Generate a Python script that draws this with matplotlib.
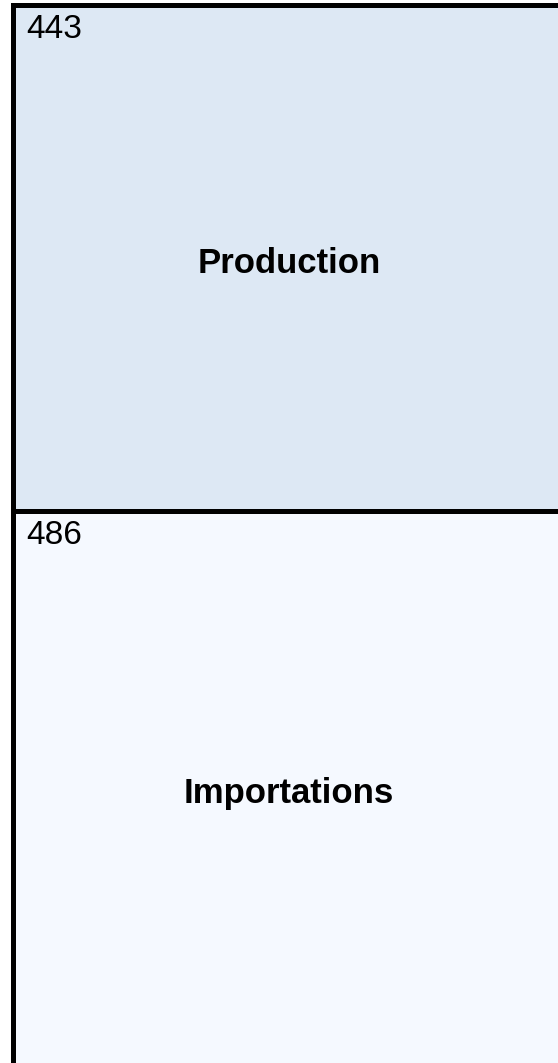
import matplotlib
matplotlib.use("Agg")
import matplotlib.pyplot as plt

plt.rcParams['font.family'] = ['Liberation Sans', 'DejaVu Sans']

# treemap data (stacked top to bottom)
labels = ["Production", "Importations"]
values = [443, 486]
colors = ["#dde8f4", "#f5f9ff"]

fig = plt.figure(figsize=(5.58, 10.63), dpi=100)
ax = fig.add_axes([0, 0, 1, 1])
ax.set_xlim(-0.0226, 0.9856)
ax.set_ylim(2.2, 933.8)
ax.axis("off")

total = sum(values)
top = total
for lab, v, c in zip(labels, values, colors):
    bottom = top - v
    ax.bar(0.5, v, bottom=bottom, width=1.0, color=c,
           edgecolor="black", linewidth=3.6)
    ax.annotate(lab, xy=(0.5, bottom + v / 2), xytext=(0, -5),
                textcoords="offset pixels", ha="center", va="center",
                fontsize=25, fontweight="bold", color="black")
    ax.annotate(str(v), xy=(0, top), xytext=(14, -9),
                textcoords="offset pixels", ha="left", va="top",
                fontsize=24, color="black")
    top = bottom

fig.savefig("out.png", dpi=100)
